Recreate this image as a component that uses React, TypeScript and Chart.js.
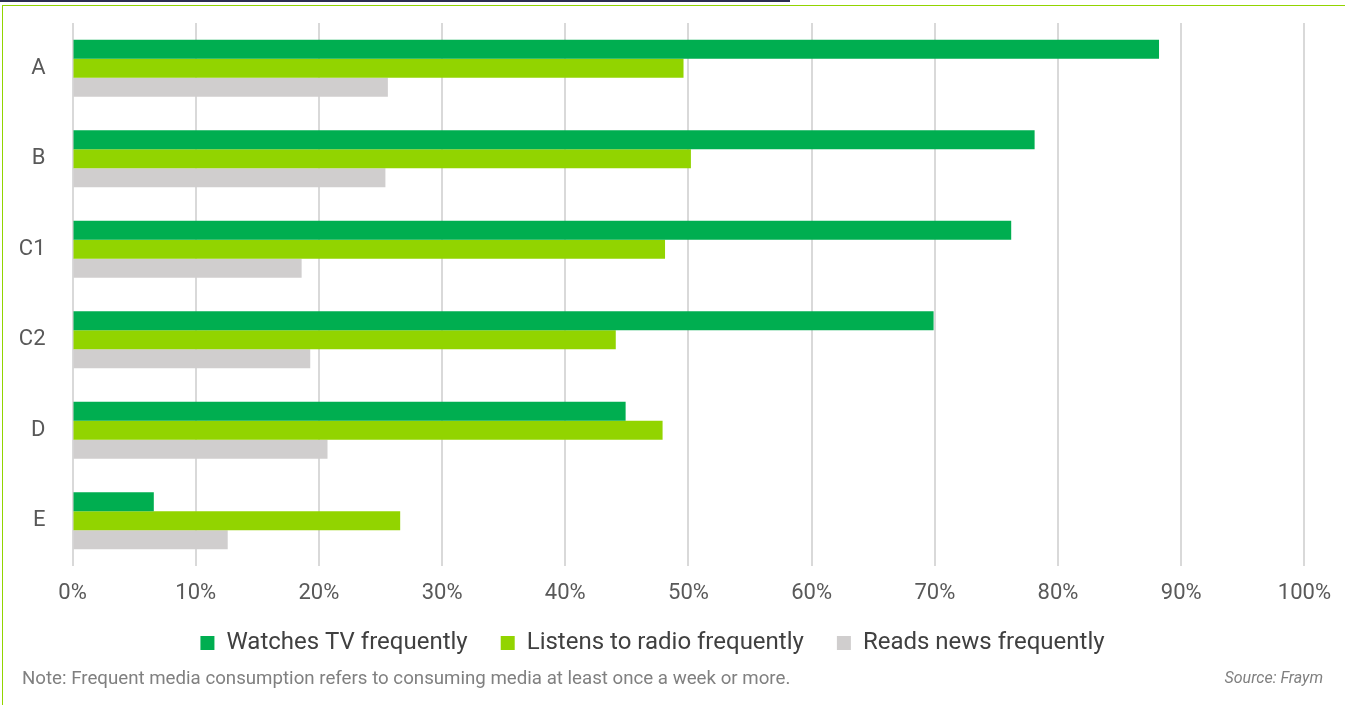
import React, { useEffect, useRef } from "react";
import { Chart, registerables } from "chart.js";

Chart.register(...registerables);

const categories = ["A", "B", "C1", "C2", "D", "E"];
const tvValues = [88.2, 78.1, 76.2, 69.9, 44.9, 6.6];
const radioValues = [49.6, 50.2, 48.1, 44.1, 47.9, 26.6];
const newsValues = [25.6, 25.4, 18.6, 19.3, 20.7, 12.6];
const seriesNames = ["Watches TV frequently", "Listens to radio frequently", "Reads news frequently"];
const xTicks = [0, 10, 20, 30, 40, 50, 60, 70, 80, 90, 100];

const FONT = "Roboto, 'Noto Sans', sans-serif";

// nudges the bottom legend upward so it sits closer to the axis labels
const legendNudge = {
  id: "legendNudge",
  afterLayout(chart: any) {
    const lg = chart.legend;
    if (lg) {
      lg.top -= 8;
      lg.bottom -= 8;
    }
  },
};

export default function App() {
  const canvasRef = useRef<HTMLCanvasElement | null>(null);

  useEffect(() => {
    if (!canvasRef.current) return;
    const chart = new Chart(canvasRef.current, {
      type: "bar",
      data: {
        labels: categories,
        datasets: [
          { label: seriesNames[0], data: tvValues, backgroundColor: "#00ae50" },
          { label: seriesNames[1], data: radioValues, backgroundColor: "#92d400" },
          { label: seriesNames[2], data: newsValues, backgroundColor: "#d0cece" },
        ],
      },
      plugins: [legendNudge],
      options: {
        indexAxis: "y",
        animation: false,
        responsive: false,
        maintainAspectRatio: false,
        layout: { padding: { top: 23, left: 0, right: 40, bottom: 32 } },
        datasets: {
          bar: { categoryPercentage: 0.63, barPercentage: 1.0, borderWidth: 0 },
        },
        scales: {
          x: {
            min: 0,
            max: 100,
            afterBuildTicks: (scale: any) => {
              scale.ticks = xTicks.map((v) => ({ value: v }));
            },
            afterFit: (scale: any) => {
              scale.height = 40;
            },
            ticks: {
              callback: (v: any) => v + "%",
              color: "#595959",
              font: { family: FONT, size: 22 },
              padding: 14,
              maxRotation: 0,
            },
            grid: { color: "#d9d9d9", lineWidth: 2, drawTicks: false },
            border: { display: false },
          },
          y: {
            afterFit: (scale: any) => {
              scale.width = 72.5;
              scale.paddingTop = 0;
              scale.paddingBottom = 0;
            },
            ticks: {
              color: "#595959",
              font: { family: FONT, size: 22 },
              padding: 27,
            },
            grid: { display: false, drawTicks: false },
            border: { display: false },
          },
        },
        plugins: {
          legend: {
            position: "bottom",
            labels: {
              boxWidth: 14,
              boxHeight: 14,
              padding: 33,
              color: "#404040",
              font: { family: FONT, size: 24 },
            },
          },
          tooltip: { enabled: false },
        },
      },
    });
    return () => chart.destroy();
  }, []);

  return (
    <div
      style={{
        position: "absolute",
        left: 0,
        top: 0,
        width: 1345,
        height: 705,
        overflow: "hidden",
        background: "#ffffff",
        fontFamily: FONT,
      }}
    >
      <div style={{ position: "absolute", left: 0, top: 0, width: 790, height: 2, background: "#2b2e50" }} />
      <div
        style={{
          position: "absolute",
          left: 2,
          top: 5,
          width: 1400,
          height: 800,
          borderLeft: "1.5px solid #92d400",
          borderTop: "1.5px solid #92d400",
        }}
      />
      <canvas ref={canvasRef} width={1345} height={705} style={{ position: "absolute", left: 0, top: 0 }} />
      <div
        style={{
          position: "absolute",
          left: 22,
          top: 666,
          fontSize: 18.7,
          color: "#808080",
          whiteSpace: "nowrap",
          lineHeight: "24px",
        }}
      >
        Note: Frequent media consumption refers to consuming media at least once a week or more.
      </div>
      <div
        style={{
          position: "absolute",
          right: 22,
          top: 668,
          fontSize: 16,
          fontStyle: "italic",
          color: "#808080",
          whiteSpace: "nowrap",
          lineHeight: "20px",
        }}
      >
        Source: Fraym
      </div>
    </div>
  );
}
